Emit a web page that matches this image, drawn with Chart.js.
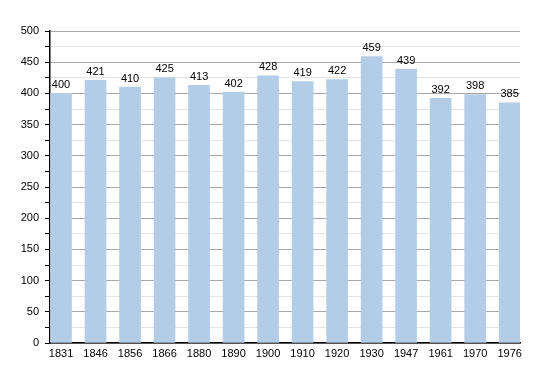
<!DOCTYPE html>
<html>
<head>
<meta charset="utf-8">
<script src="https://cdn.jsdelivr.net/npm/chart.js@4/dist/chart.umd.min.js"></script>
<style>
  html, body { margin: 0; padding: 0; background: #fff; }
  #wrap { width: 550px; height: 373px; }
</style>
</head>
<body>
<div id="wrap"><canvas id="chart"></canvas></div>
<script>
const years = ["1831", "1846", "1856", "1866", "1880", "1890", "1900", "1910", "1920", "1930", "1947", "1961", "1970", "1976"];
const population = [400, 421, 410, 425, 413, 402, 428, 419, 422, 459, 439, 392, 398, 385];
const yTicks = [0, 50, 100, 150, 200, 250, 300, 350, 400, 450, 500];

const barColor = "#b4cde6";
const fontFamily = "'Liberation Sans', Arial, sans-serif";

// writes the value above each bar
const valueLabels = {
  id: 'valueLabels',
  afterDatasetsDraw(chart) {
    const ctx = chart.ctx;
    const meta = chart.getDatasetMeta(0);
    ctx.save();
    ctx.fillStyle = "#000";
    ctx.font = "11px " + fontFamily;
    ctx.textAlign = "center";
    ctx.textBaseline = "bottom";
    meta.data.forEach(function(bar, i) {
      ctx.fillText(population[i], bar.x, bar.y - 3);
    });
    ctx.restore();
  }
};

new Chart(document.getElementById("chart"), {
  type: 'bar',
  data: {
    datasets: [{
      data: population.map((v, i) => ({x: i, y: v})),
      backgroundColor: barColor,
      borderWidth: 0,
      barThickness: 21
    }]
  },
  options: {
    responsive: true,
    maintainAspectRatio: false,
    animation: false,
    layout: { padding: { left: 0, right: 30, top: 31, bottom: 0 } },
    plugins: {
      legend: { display: false },
      tooltip: { enabled: false }
    },
    scales: {
      x: {
        type: 'linear',
        offset: false,
        min: -0.32,
        max: 13.3,
        afterBuildTicks: axis => { axis.ticks = years.map((y, i) => ({value: i})); },
        afterFit: axis => { axis.height = 30; },
        grid: { display: false, drawTicks: false },
        border: { display: true, color: "#000", width: 1.5 },
        ticks: {
          autoSkip: false,
          maxRotation: 0,
          padding: 4,
          color: "#000",
          font: { size: 11, family: fontFamily },
          callback: v => years[v]
        }
      },
      y: {
        min: 0,
        max: 500,
        afterBuildTicks: axis => {
          const t = [];
          for (let v = 0; v <= 500; v += 25) t.push({value: v});
          axis.ticks = t;
        },
        afterFit: axis => { axis.width = 50; },
        border: { display: true, color: "#000", width: 1.5 },
        grid: {
          drawTicks: true,
          tickLength: 5,
          tickColor: "#000",
          color: c => (c.tick && c.tick.value % 50 === 0) ? "#a8a8a8" : "#e4e4e4",
          lineWidth: 1
        },
        ticks: {
          autoSkip: false,
          padding: 6,
          color: "#000",
          font: { size: 11, family: fontFamily },
          callback: v => yTicks.includes(v) ? String(v) : ''
        }
      }
    }
  },
  plugins: [valueLabels]
});
</script>
</body>
</html>
